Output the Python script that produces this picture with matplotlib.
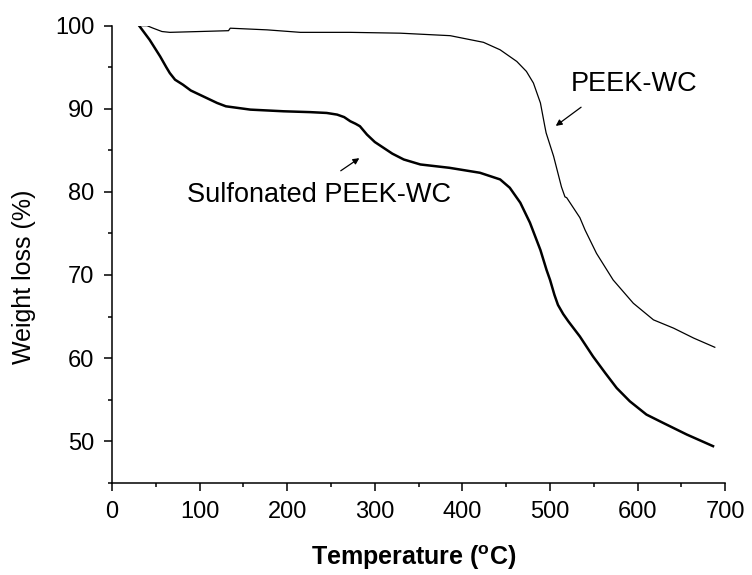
import matplotlib
matplotlib.use("Agg")
import matplotlib.pyplot as plt
from matplotlib.ticker import MultipleLocator

plt.rcParams['font.family'] = ['Liberation Sans', 'DejaVu Sans']
plt.rcParams['mathtext.fontset'] = 'custom'
plt.rcParams['mathtext.rm'] = 'Liberation Sans'
plt.rcParams['mathtext.bf'] = 'Liberation Sans:bold'

# sulfonated PEEK-WC (thick line)
sulf_temp = [31, 43, 55, 62, 66, 72, 81, 90, 100, 120, 130, 158, 196, 226, 245, 257,
             265, 272, 278, 283, 291, 300, 310, 320, 333, 352, 385, 420, 443, 454,
             466, 477, 489, 496, 500, 505, 509, 515, 521, 534, 549, 563, 576, 591,
             610, 629, 656, 686]
sulf_weight = [100.0, 98.3, 96.3, 95.0, 94.3, 93.5, 92.9, 92.2, 91.7, 90.7, 90.3,
               89.9, 89.7, 89.6, 89.5, 89.3, 89.0, 88.5, 88.2, 87.9, 86.9, 86.0,
               85.3, 84.6, 83.9, 83.3, 82.9, 82.3, 81.5, 80.5, 78.7, 76.3, 73.0,
               70.6, 69.4, 67.6, 66.4, 65.3, 64.4, 62.6, 60.2, 58.2, 56.4, 54.8,
               53.2, 52.2, 50.8, 49.4]

# plain PEEK-WC (thin line)
peek_temp = [31, 40, 47, 57, 66, 100, 133, 135, 177, 215, 272, 329, 386, 424, 443,
             462, 473, 481, 489, 494, 495.5, 504, 513, 517, 519, 534, 540, 553, 572,
             595, 618, 641, 664, 688]
peek_weight = [100.0, 100.0, 99.7, 99.3, 99.2, 99.3, 99.4, 99.7, 99.5, 99.2, 99.2,
               99.1, 98.8, 98.0, 97.1, 95.7, 94.5, 93.1, 90.7, 87.9, 87.1, 84.3,
               80.6, 79.4, 79.3, 76.9, 75.4, 72.6, 69.4, 66.6, 64.6, 63.6, 62.4,
               61.3]

fig = plt.figure(figsize=(7.52, 5.75), dpi=100)
ax = fig.add_axes([0.1489, 0.1605, 0.8156, 0.7948])

ax.plot(peek_temp, peek_weight, color="black", linewidth=0.9)
ax.plot(sulf_temp, sulf_weight, color="black", linewidth=1.8)

ax.set_xlim(0, 700)
ax.set_ylim(45, 100)
ax.xaxis.set_major_locator(MultipleLocator(100))
ax.xaxis.set_minor_locator(MultipleLocator(50))
ax.yaxis.set_major_locator(MultipleLocator(10))
ax.yaxis.set_minor_locator(MultipleLocator(5))

for side in ["top", "right"]:
    ax.spines[side].set_visible(False)
for side in ["left", "bottom"]:
    ax.spines[side].set_linewidth(1.1)

ax.tick_params(which="major", direction="out", length=5.5, width=1.1, labelsize=17)
ax.tick_params(which="minor", direction="out", length=3, width=1.1)
ax.tick_params(axis="x", which="major", pad=8)
ax.tick_params(axis="y", which="major", pad=7)

ax.set_xlabel(r"Temperature ($^{\mathbf{o}}$C)", fontsize=18, fontweight="bold")
ax.set_ylabel("Weight loss (%)", fontsize=18)
ax.xaxis.set_label_coords(0.492, -0.132)
ax.yaxis.set_label_coords(-0.124, 0.451)

ax.annotate("", xy=(506.5, 87.94), xytext=(535.4, 90.19),
            arrowprops=dict(arrowstyle="-|>", color="black", lw=0.9,
                            mutation_scale=9, shrinkA=0, shrinkB=0))
ax.text(523.6, 92.19, "PEEK-WC", fontsize=19.5, ha="left", va="baseline")

ax.annotate("", xy=(282.3, 84.06), xytext=(261.1, 82.54),
            arrowprops=dict(arrowstyle="-|>", color="black", lw=0.9,
                            mutation_scale=9, shrinkA=0, shrinkB=0))
ax.text(86.0, 78.77, "Sulfonated PEEK-WC", fontsize=19.5, ha="left", va="baseline")

fig.savefig("out.png", dpi=100)
